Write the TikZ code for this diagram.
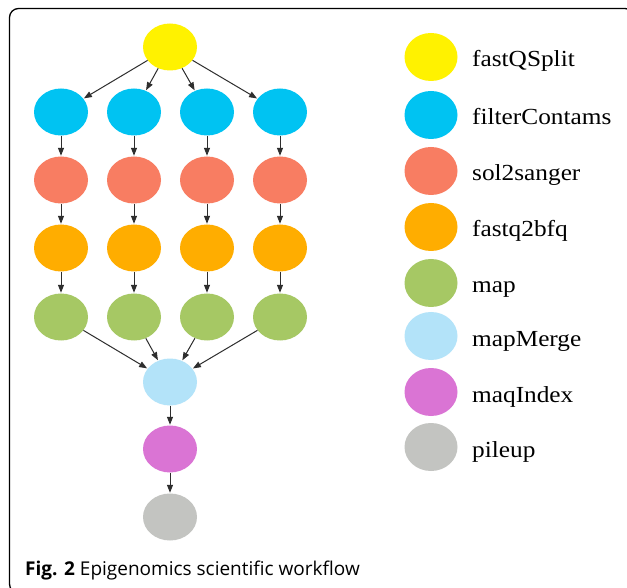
\documentclass[tikz,border=0pt]{standalone}
\usepackage{fontspec}
\setmainfont{Liberation Serif}
\newfontfamily\legfont[FakeStretch=1.1]{Liberation Serif}
\newfontfamily\capfont{Open Sans}
\usetikzlibrary{shapes.geometric,arrows.meta}

\definecolor{cSplit}{HTML}{FFF200}
\definecolor{cFilter}{HTML}{00C3F2}
\definecolor{cSol}{HTML}{F87D62}
\definecolor{cFq}{HTML}{FFAD00}
\definecolor{cMap}{HTML}{A6C864}
\definecolor{cMerge}{HTML}{B3E3F9}
\definecolor{cMaq}{HTML}{DA74D4}
\definecolor{cPile}{HTML}{C3C4C1}
\definecolor{cEdge}{HTML}{2E2E2E}

\tikzset{
  job/.style={ellipse, draw=none, inner sep=0pt, minimum width=54pt, minimum height=47pt},
  flow/.style={draw=cEdge, line width=1pt, -{Triangle[length=8pt,width=6pt]}, shorten >=0.5pt},
  legtext/.style={anchor=base west, inner sep=0pt, font=\legfont\fontsize{23}{23}\selectfont},
}

\begin{document}
\begin{tikzpicture}[x=1pt,y=-1pt]
\useasboundingbox (0,0) rectangle (627,588);
\fill[white] (0,0) rectangle (627,588);

% frame
\begin{scope}
  \clip (0,0) rectangle (627,588);
  \draw[line width=1.3pt, rounded corners=9pt] (9.5,8.5) rectangle (634,593);
\end{scope}

% workflow jobs
\node[job, fill=cSplit] (split) at (170,47) {};
\foreach \i/\x in {1/61,2/134,3/207,4/280}{
  \node[job, fill=cFilter] (f\i) at (\x,112) {};
  \node[job, fill=cSol]    (s\i) at (\x,180) {};
  \node[job, fill=cFq]     (q\i) at (\x,248) {};
  \node[job, fill=cMap]    (m\i) at (\x,317) {};
}
\node[job, fill=cMerge] (merge) at (170,382) {};
\node[job, fill=cMaq]   (maq)   at (170,449) {};
\node[job, fill=cPile]  (pile)  at (170,517) {};

% dependencies
\foreach \i in {1,2,3,4}{
  \draw[flow] (split) -- (f\i);
  \draw[flow] (f\i) -- (s\i);
  \draw[flow] (s\i) -- (q\i);
  \draw[flow] (q\i) -- (m\i);
  \draw[flow] (m\i) -- (merge);
}
\draw[flow] (merge) -- (maq);
\draw[flow] (maq) -- (pile);

% legend
\foreach \n/\y/\c/\t in {1/57/cSplit/fastQSplit,2/115/cFilter/filterContams,3/171/cSol/sol2sanger,4/227/cFq/fastq2bfq,5/283/cMap/map,6/336/cMerge/mapMerge,7/392/cMaq/maqIndex,8/447/cPile/pileup}{
  \node[job, fill=\c, minimum width=53pt, minimum height=48pt] (k\n) at (431,\y) {};
  \node[legtext] (t\n) at (472,\y+10) {\t};
}

% caption
\node[anchor=base west, inner sep=0pt, font=\capfont\fontsize{19}{19}\selectfont] (cap) at (25,575)
  {\textbf{Fig. 2} Epigenomics scientific workflow};
\end{tikzpicture}
\end{document}
